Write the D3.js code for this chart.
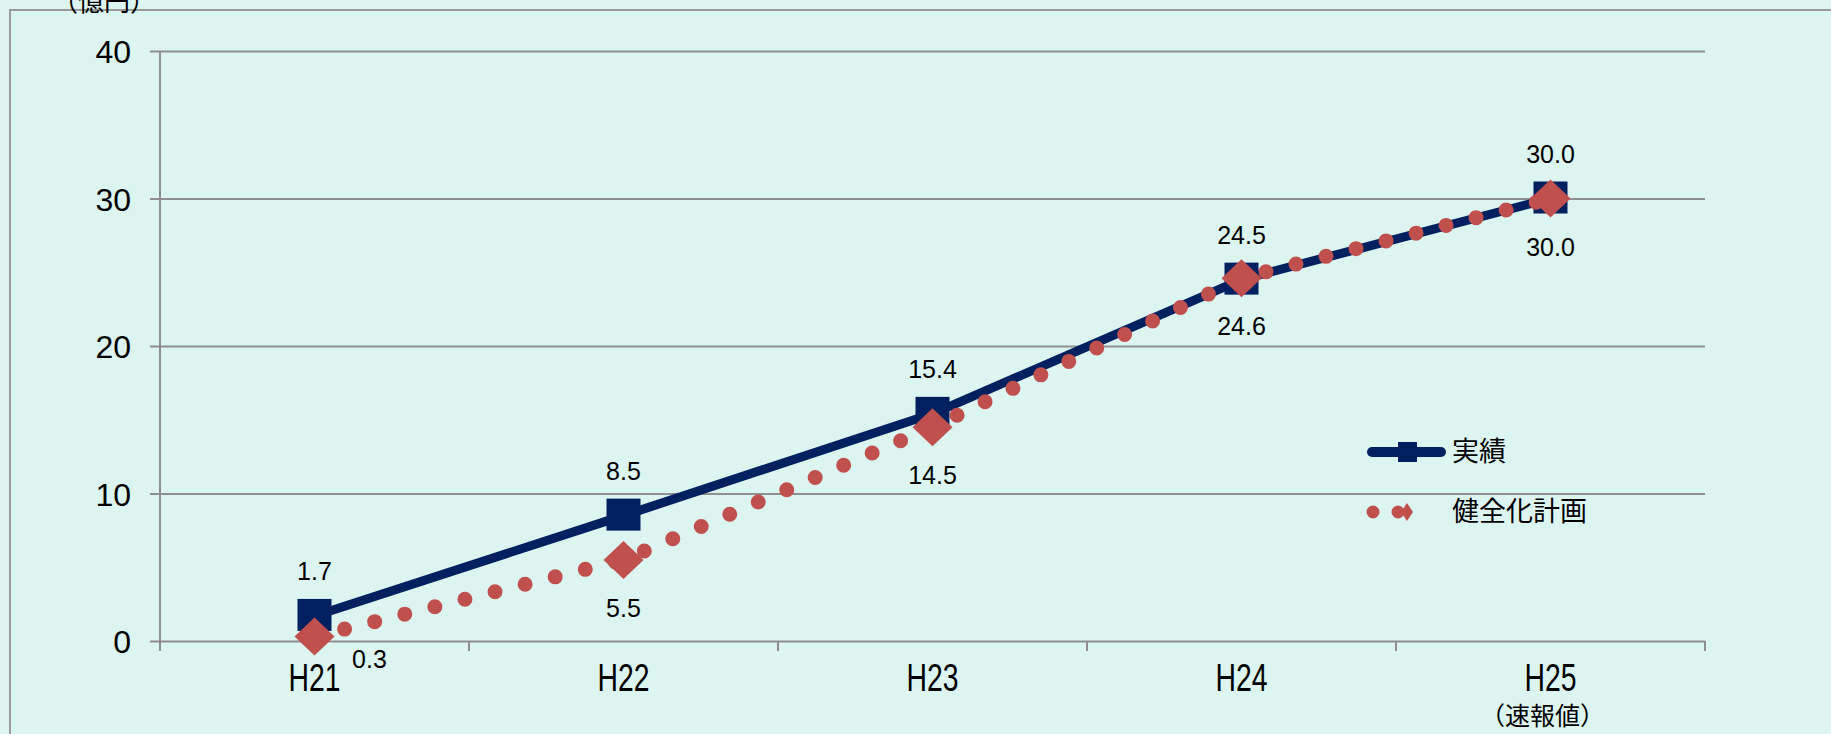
<!DOCTYPE html>
<html>
<head>
<meta charset="utf-8">
<script src="https://cdn.jsdelivr.net/npm/d3@7"></script>
<style>
  html, body { margin: 0; padding: 0; background: #ddf5f0; }
  svg { display: block; }
</style>
</head>
<body>
<svg id="chart" width="1831" height="734"></svg>
<script>
// 年度
const categories = ["H21", "H22", "H23", "H24", "H25"];
// 実績（億円）
const actual = [1.7, 8.5, 15.4, 24.5, 30.0];
// 健全化計画（億円）
const plan = [0.3, 5.5, 14.5, 24.6, 30.0];
const seriesNames = ["実績", "健全化計画"];
const yTicks = [0, 10, 20, 30, 40];
const unitLabel = "（億円）";
const noteLabel = "（速報値）";

const W = 1831, H = 734;
const plot = { left: 160, right: 1705, top: 51, bottom: 641 };
const gridColor = "#8f8f8f";
const navy = "#002060";
const red = "#c0504d";

const svg = d3.select("#chart");
svg.append("rect").attr("width", W).attr("height", H).attr("fill", "#ddf5f0");

// 外枠
svg.append("path")
  .attr("d", `M10,${H + 5} V10 H${W + 5}`)
  .attr("fill", "none").attr("stroke", "#9a9a9a").attr("stroke-width", 2);

const x = d3.scaleBand().domain(categories).range([plot.left, plot.right]).padding(0);
const y = d3.scaleLinear().domain([0, 40]).range([plot.bottom, plot.top]);
const cx = c => x(c) + x.bandwidth() / 2;

// 縦軸・目盛線
const yAxis = svg.append("g")
  .attr("transform", `translate(${plot.left},0)`)
  .call(d3.axisLeft(y).tickValues(yTicks).tickSize(10).tickSizeOuter(0).tickPadding(19))
  .call(g => g.select(".domain").remove());
yAxis.selectAll(".tick line")
  .attr("x2", plot.right - plot.left).attr("x1", -10)
  .attr("stroke", gridColor).attr("stroke-width", 2);
yAxis.selectAll(".tick text")
  .attr("font-family", "'Liberation Sans', Arial, sans-serif")
  .attr("font-size", 32).attr("fill", "#000").attr("dy", "0.36em");

svg.append("line")
  .attr("x1", plot.left).attr("x2", plot.left)
  .attr("y1", plot.top).attr("y2", plot.bottom + 10)
  .attr("stroke", gridColor).attr("stroke-width", 2);

// 横軸の区切り目盛
const bounds = categories.map(c => x(c)).concat([x(categories[categories.length - 1]) + x.bandwidth()]);
svg.append("g").selectAll("line").data(bounds).join("line")
  .attr("x1", d => d).attr("x2", d => d)
  .attr("y1", plot.bottom).attr("y2", plot.bottom + 10)
  .attr("stroke", gridColor).attr("stroke-width", 2);

// 横軸ラベル（縦長の書体）
const xAxis = svg.append("g")
  .attr("transform", `translate(0,${plot.bottom})`)
  .call(d3.axisBottom(x).tickSize(0).tickPadding(23))
  .call(g => g.select(".domain").remove());
xAxis.selectAll(".tick text")
  .attr("font-family", "'Liberation Sans', Arial, sans-serif")
  .attr("font-size", 38).attr("fill", "#000").attr("dy", "0.71em")
  .attr("textLength", 52).attr("lengthAdjust", "spacingAndGlyphs");

svg.append("text")
  .attr("x", cx("H25") - 8).attr("y", 725)
  .attr("text-anchor", "middle")
  .attr("font-family", "'Noto Sans CJK JP', sans-serif")
  .attr("font-size", 25).attr("fill", "#000")
  .text(noteLabel);

// 単位
svg.append("text")
  .attr("x", 52).attr("y", 11)
  .attr("font-family", "'Noto Sans CJK JP', sans-serif")
  .attr("font-size", 26).attr("fill", "#000")
  .text(unitLabel);

const line = d3.line().x((d, i) => cx(categories[i])).y(d => y(d));

// 実績
svg.append("path").datum(actual)
  .attr("d", line).attr("fill", "none")
  .attr("stroke", navy).attr("stroke-width", 9).attr("stroke-linejoin", "round");
const sq = 34;
svg.append("g").selectAll("rect").data(actual).join("rect")
  .attr("x", (d, i) => cx(categories[i]) - sq / 2)
  .attr("y", d => y(d) - sq / 2)
  .attr("width", sq).attr("height", sq - 2)
  .attr("fill", navy);

// 健全化計画
svg.append("path").datum(plan)
  .attr("d", line).attr("fill", "none")
  .attr("stroke", red).attr("stroke-width", 15)
  .attr("stroke-linecap", "round").attr("stroke-dasharray", "0,31");
const dw = 20, dh = 19;
svg.append("g").selectAll("path").data(plan).join("path")
  .attr("d", (d, i) => {
    const px = cx(categories[i]), py = y(d);
    return `M${px},${py - dh} L${px + dw},${py} L${px},${py + dh} L${px - dw},${py} Z`;
  })
  .attr("fill", red);

// データラベル
const labelFont = "'Liberation Sans', Arial, sans-serif";
svg.append("g").selectAll("text").data(actual).join("text")
  .attr("x", (d, i) => cx(categories[i]))
  .attr("y", d => y(d) - 36)
  .attr("text-anchor", "middle")
  .attr("font-family", labelFont).attr("font-size", 25).attr("fill", "#000")
  .text(d => d.toFixed(1));

svg.append("g").selectAll("text").data(plan).join("text")
  .attr("x", (d, i) => cx(categories[i]) + (i === 0 ? 55 : 0))
  .attr("y", (d, i) => y(d) + (i === 0 ? 31 : 57))
  .attr("text-anchor", "middle")
  .attr("font-family", labelFont).attr("font-size", 25).attr("fill", "#000")
  .text(d => d.toFixed(1));

// 凡例
const lg = svg.append("g");
lg.append("line")
  .attr("x1", 1372).attr("x2", 1441).attr("y1", 452).attr("y2", 452)
  .attr("stroke", navy).attr("stroke-width", 10).attr("stroke-linecap", "round");
lg.append("rect").attr("x", 1398).attr("y", 442).attr("width", 19).attr("height", 20).attr("fill", navy);
lg.append("text").attr("x", 1452).attr("y", 452).attr("dy", "0.35em")
  .attr("font-family", "'Noto Sans CJK JP', sans-serif").attr("font-size", 27).attr("fill", "#000")
  .text(seriesNames[0]);

lg.append("line")
  .attr("x1", 1373).attr("x2", 1423).attr("y1", 512).attr("y2", 512)
  .attr("stroke", red).attr("stroke-width", 13).attr("stroke-linecap", "round")
  .attr("stroke-dasharray", "0,25");
lg.append("path")
  .attr("d", "M1407,503 L1413,512 L1407,521 L1401,512 Z")
  .attr("fill", red);
lg.append("text").attr("x", 1452).attr("y", 512).attr("dy", "0.35em")
  .attr("font-family", "'Noto Sans CJK JP', sans-serif").attr("font-size", 27).attr("fill", "#000")
  .text(seriesNames[1]);
</script>
</body>
</html>
